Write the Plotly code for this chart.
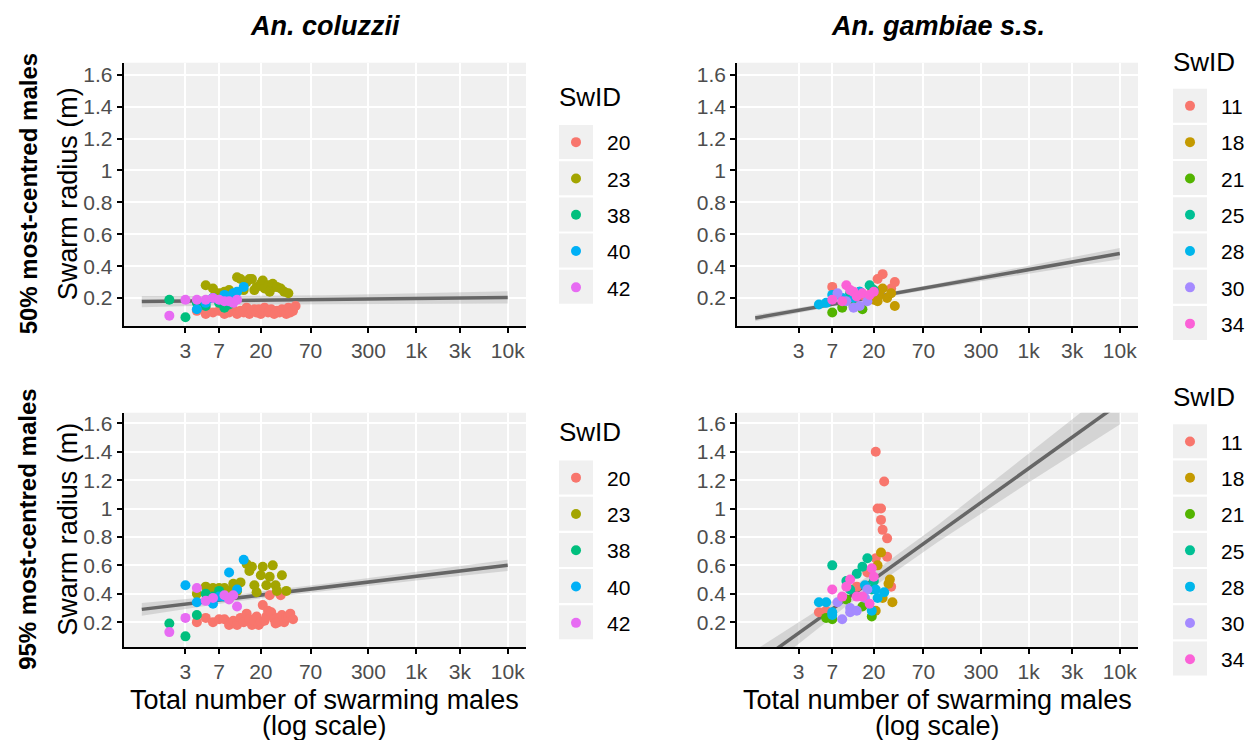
import plotly.graph_objects as go

# ---------------- data ----------------
N_TICKS = [3, 7, 20, 70, 300, 1000, 3000, 10000]
N_TICK_TEXT = ["3", "7", "20", "70", "300", "1k", "3k", "10k"]
R_TICKS = [0.2, 0.4, 0.6, 0.8, 1.0, 1.2, 1.4, 1.6]
R_TICK_TEXT = ["0.2", "0.4", "0.6", "0.8", "1", "1.2", "1.4", "1.6"]

COLUMN_TITLES = ["An. coluzzii", "An. gambiae s.s."]
ROW_TITLES = ["50% most-centred males", "95% most-centred males"]
Y_TITLE = "Swarm radius (m)"
X_TITLE_1 = "Total number of swarming males"
X_TITLE_2 = "(log scale)"
LEGEND_TITLE = "SwID"

coluzzii_ids = ["20", "23", "38", "40", "42"]
coluzzii_colors = ["#F8766D", "#A3A500", "#00BF7D", "#00B0F6", "#E76BF3"]
gambiae_ids = ["11", "18", "21", "25", "28", "30", "34"]
gambiae_colors = ["#F8766D", "#C49A00", "#53B400", "#00C094", "#00B6EB", "#A58AFF", "#FB61D7"]

# An. coluzzii, 50% most-centred males
col50_n = {
    "20": [4, 5, 5, 6, 7, 8, 9, 10, 11, 12, 13, 14, 15, 16, 17, 18, 19, 20, 21, 22, 24, 25, 26, 28, 30, 32, 34, 36, 38, 40, 42, 45, 48],
    "23": [5, 6, 7, 8, 9, 10, 11, 12, 13, 14, 15, 16, 17, 18, 20, 21, 22, 24, 25, 27, 28, 30, 33, 36, 40],
    "38": [2, 3, 4, 5, 6, 7, 8, 9],
    "40": [4, 5, 6, 7, 8, 9, 10, 11, 13],
    "42": [2, 3, 4, 5, 6, 7, 8, 9, 10, 11],
}
col50_r = {
    "20": [0.12, 0.13, 0.10, 0.11, 0.12, 0.10, 0.11, 0.13, 0.10, 0.12, 0.11, 0.14, 0.10, 0.12, 0.13, 0.11, 0.13, 0.10, 0.12, 0.14, 0.11, 0.12, 0.13, 0.10, 0.12, 0.11, 0.13, 0.12, 0.10, 0.14, 0.11, 0.12, 0.15],
    "23": [0.28, 0.26, 0.23, 0.24, 0.25, 0.22, 0.33, 0.32, 0.25, 0.30, 0.32, 0.32, 0.25, 0.27, 0.29, 0.31, 0.26, 0.28, 0.24, 0.29, 0.27, 0.27, 0.26, 0.24, 0.23],
    "38": [0.19, 0.08, 0.17, 0.15, 0.20, 0.17, 0.14, 0.16],
    "40": [0.13, 0.17, 0.20, 0.19, 0.22, 0.18, 0.23, 0.24, 0.27],
    "42": [0.09, 0.19, 0.19, 0.19, 0.20, 0.19, 0.18, 0.18, 0.17, 0.19],
}

# An. coluzzii, 95% most-centred males
col95_n = {
    "20": [4, 5, 6, 7, 8, 9, 10, 11, 12, 13, 14, 15, 16, 17, 18, 19, 20, 21, 22, 23, 24, 25, 26, 28, 29, 30, 31, 33, 34, 36, 38, 40, 42, 45],
    "23": [4, 5, 6, 7, 8, 9, 10, 11, 12, 14, 15, 16, 17, 18, 20, 21, 23, 25, 27, 29, 30, 34, 38],
    "38": [2, 3, 4, 5, 6, 7],
    "40": [3, 4, 6, 7, 8, 9, 11, 13],
    "42": [2, 3, 4, 5, 6, 8, 9, 10, 11],
}
col95_r = {
    "20": [0.20, 0.23, 0.20, 0.22, 0.22, 0.18, 0.21, 0.18, 0.23, 0.20, 0.26, 0.22, 0.18, 0.21, 0.24, 0.18, 0.20, 0.32, 0.21, 0.24, 0.28, 0.39, 0.27, 0.22, 0.19, 0.23, 0.20, 0.39, 0.25, 0.20, 0.23, 0.24, 0.26, 0.22],
    "23": [0.40, 0.45, 0.44, 0.44, 0.44, 0.42, 0.47, 0.42, 0.48, 0.61, 0.56, 0.59, 0.46, 0.41, 0.53, 0.59, 0.46, 0.52, 0.60, 0.46, 0.42, 0.53, 0.42],
    "38": [0.19, 0.10, 0.25, 0.40, 0.38, 0.42],
    "40": [0.46, 0.34, 0.33, 0.38, 0.38, 0.55, 0.43, 0.64],
    "42": [0.13, 0.23, 0.44, 0.35, 0.37, 0.39, 0.36, 0.39, 0.31],
}

# An. gambiae s.s., 50% most-centred males
gam50_n = {
    "11": [7, 16, 19, 22, 23, 25, 31, 34],
    "18": [20, 22, 23, 25, 28, 31, 34],
    "21": [7, 9, 12, 15],
    "25": [11, 14, 18, 20],
    "28": [5, 6, 7, 9, 12, 14],
    "30": [8, 10, 12, 14, 17],
    "34": [7, 9, 10, 11, 12, 13, 15, 18, 20],
}
gam50_r = {
    "11": [0.27, 0.21, 0.26, 0.32, 0.24, 0.35, 0.26, 0.30],
    "18": [0.19, 0.18, 0.22, 0.26, 0.20, 0.23, 0.15],
    "21": [0.11, 0.14, 0.15, 0.13],
    "25": [0.23, 0.24, 0.28, 0.25],
    "28": [0.16, 0.17, 0.22, 0.20, 0.20, 0.24],
    "30": [0.23, 0.18, 0.14, 0.15, 0.18],
    "34": [0.19, 0.18, 0.28, 0.25, 0.24, 0.21, 0.23, 0.22, 0.24],
}

# An. gambiae s.s., 95% most-centred males
gam95_n = {
    "11": [5, 6, 13, 17, 21, 21, 22, 24, 24, 25, 26, 28, 28, 31],
    "18": [21, 22, 24, 25, 29, 30, 32],
    "21": [6, 7, 10, 15, 19],
    "25": [7, 10, 11, 13, 15, 17, 19, 20],
    "28": [5, 6, 7, 7, 16, 19, 21, 22, 26],
    "30": [8, 9, 11, 11, 13, 16, 17],
    "34": [7, 9, 10, 11, 13, 15, 18, 19, 20],
}
gam95_r = {
    "11": [0.27, 0.28, 0.45, 0.55, 1.40, 0.65, 1.00, 1.00, 0.92, 0.85, 1.19, 0.79, 0.66, 0.45],
    "18": [0.28, 0.60, 0.69, 0.37, 0.47, 0.50, 0.34],
    "21": [0.23, 0.22, 0.36, 0.31, 0.24],
    "25": [0.60, 0.49, 0.43, 0.54, 0.59, 0.65, 0.43, 0.49],
    "28": [0.34, 0.34, 0.25, 0.27, 0.46, 0.28, 0.43, 0.37, 0.41],
    "30": [0.34, 0.22, 0.30, 0.27, 0.28, 0.37, 0.43],
    "34": [0.43, 0.38, 0.45, 0.50, 0.38, 0.38, 0.33, 0.58, 0.52],
}

# fitted regression lines with confidence ribbons
fit_n = [1, 10, 100, 1000, 10000]
col50_fit = [0.178, 0.185, 0.190, 0.197, 0.204]
col50_lo = [0.143, 0.157, 0.162, 0.165, 0.166]
col50_hi = [0.213, 0.213, 0.218, 0.229, 0.242]
gam50_fit = [0.075, 0.176, 0.277, 0.378, 0.479]
gam50_lo = [0.055, 0.164, 0.262, 0.353, 0.444]
gam50_hi = [0.095, 0.188, 0.292, 0.403, 0.514]
col95_fit = [0.290, 0.368, 0.445, 0.523, 0.600]
col95_lo = [0.245, 0.343, 0.420, 0.493, 0.560]
col95_hi = [0.335, 0.393, 0.470, 0.553, 0.640]
gam95_fit = [-0.096, 0.364, 0.823, 1.283, 1.742]
gam95_lo = [-0.196, 0.314, 0.763, 1.183, 1.592]
gam95_hi = [0.004, 0.414, 0.883, 1.383, 1.892]

# ---------------- layout geometry (pixels) ----------------
W, H = 1257, 740
PANEL_X = {"left": (123.5, 526.0), "right": (737.0, 1138.0)}
PANEL_Y = {"top": (62.7, 326.0), "bottom": (412.7, 647.0)}
FONT = "Liberation Sans, Arial, Helvetica, sans-serif"


def px_x(p):
    return p / W


def px_y(p):
    return 1 - p / H


fig = go.Figure()

panels = [
    # name, axis suffix, col, row, ids, colors, n, r, fit, lo, hi, legend
    ("c50", "", "left", "top", coluzzii_ids, coluzzii_colors, col50_n, col50_r, col50_fit, col50_lo, col50_hi, "legend"),
    ("g50", "2", "right", "top", gambiae_ids, gambiae_colors, gam50_n, gam50_r, gam50_fit, gam50_lo, gam50_hi, "legend2"),
    ("c95", "3", "left", "bottom", coluzzii_ids, coluzzii_colors, col95_n, col95_r, col95_fit, col95_lo, col95_hi, "legend3"),
    ("g95", "4", "right", "bottom", gambiae_ids, gambiae_colors, gam95_n, gam95_r, gam95_fit, gam95_lo, gam95_hi, "legend4"),
]

axis_common = dict(
    showgrid=True, gridcolor="white", gridwidth=1.6,
    showline=True, linecolor="black", linewidth=1.6,
    ticks="outside", ticklen=5, tickwidth=1.5, tickcolor="black",
    tickfont=dict(family=FONT, size=21, color="#4D4D4D"),
    zeroline=False,
)

for name, sfx, col, row, ids, colors, n_d, r_d, fit, lo, hi, leg in panels:
    xa = "x" + sfx
    ya = "y" + sfx
    # ribbon
    fig.add_trace(go.Scatter(
        x=fit_n + fit_n[::-1], y=hi + lo[::-1], xaxis=xa, yaxis=ya,
        fill="toself", fillcolor="rgba(160,160,160,0.35)", line=dict(width=0),
        mode="lines", showlegend=False, hoverinfo="skip",
    ))
    # fitted line
    fig.add_trace(go.Scatter(
        x=fit_n, y=fit, xaxis=xa, yaxis=ya, mode="lines",
        line=dict(color="#666666", width=3.5), showlegend=False, hoverinfo="skip",
    ))
    for sid, colr in zip(ids, colors):
        fig.add_trace(go.Scatter(
            x=n_d[sid], y=r_d[sid], xaxis=xa, yaxis=ya, mode="markers",
            marker=dict(color=colr, size=10, line=dict(width=0)),
            name=sid, legend=leg, legendgroup=name + sid,
        ))
    x0, x1 = PANEL_X[col]
    y0, y1 = PANEL_Y[row]
    fig.layout["xaxis" + sfx] = dict(
        axis_common, type="log", range=[-0.2, 4.2],
        tickvals=N_TICKS, ticktext=N_TICK_TEXT,
        domain=[px_x(x0), px_x(x1)], anchor=ya,
    )
    fig.layout["yaxis" + sfx] = dict(
        axis_common, range=[0.025, 1.675],
        tickvals=R_TICKS, ticktext=R_TICK_TEXT,
        domain=[px_y(y1), px_y(y0)], anchor=xa,
    )

# legend geometry: first key centre (pixels) and title centre per legend
KEY_X = {"left": (559, 593), "right": (1173, 1207)}
LEGENDS = {
    "legend": ("left", 142.0, 96.7),
    "legend2": ("right", 105.7, 61.7),
    "legend3": ("left", 477.5, 432.0),
    "legend4": ("right", 441.3, 397.0),
}
ITEM_STEP = 36.2
FIRST_ITEM_OFFSET = 20.0  # plotly: first legend item centre below legend top

shapes = []
annotations = []
for leg, (col, y_first, y_title) in LEGENDS.items():
    kx0, kx1 = KEY_X[col]
    fig.layout[leg] = dict(
        x=px_x((kx0 + kx1) / 2 - 31), y=px_y(y_first - FIRST_ITEM_OFFSET),
        xanchor="left", yanchor="top", xref="paper", yref="paper",
        bgcolor="rgba(0,0,0,0)", borderwidth=0,
        itemwidth=52, tracegroupgap=6,
        font=dict(family=FONT, size=21, color="black"),
    )
    annotations.append(dict(
        text=LEGEND_TITLE, x=px_x(kx0 - 2), y=px_y(y_title),
        xref="paper", yref="paper", showarrow=False, xanchor="left", yanchor="middle",
        font=dict(family=FONT, size=26, color="black"),
    ))
    count = len(coluzzii_ids) if col == "left" else len(gambiae_ids)
    for i in range(count):
        cy = y_first + ITEM_STEP * i
        shapes.append(dict(
            type="rect", xref="paper", yref="paper", layer="below",
            x0=px_x(kx0), x1=px_x(kx1),
            y0=px_y(cy + 17), y1=px_y(cy - 17),
            fillcolor="#F0F0F0", line=dict(width=0),
        ))

for col, title in zip(["left", "right"], COLUMN_TITLES):
    cx = sum(PANEL_X[col]) / 2
    annotations.append(dict(
        text="<b><i>" + title + "</i></b>", x=px_x(cx), y=px_y(26),
        xref="paper", yref="paper", showarrow=False, xanchor="center", yanchor="middle",
        font=dict(family=FONT, size=27, color="black"),
    ))
for row, title in zip(["top", "bottom"], ROW_TITLES):
    cy = sum(PANEL_Y[row]) / 2
    annotations.append(dict(
        text="<b>" + title + "</b>", x=px_x(28), y=px_y(cy), textangle=-90,
        xref="paper", yref="paper", showarrow=False, xanchor="center", yanchor="middle",
        font=dict(family=FONT, size=24, color="black"),
    ))
    annotations.append(dict(
        text=Y_TITLE, x=px_x(68), y=px_y(cy), textangle=-90,
        xref="paper", yref="paper", showarrow=False, xanchor="center", yanchor="middle",
        font=dict(family=FONT, size=27, color="black"),
    ))
for col in ["left", "right"]:
    cx = sum(PANEL_X[col]) / 2
    annotations.append(dict(
        text=X_TITLE_1, x=px_x(cx), y=px_y(700),
        xref="paper", yref="paper", showarrow=False, xanchor="center", yanchor="middle",
        font=dict(family=FONT, size=27, color="black"),
    ))
    annotations.append(dict(
        text=X_TITLE_2, x=px_x(cx), y=px_y(726),
        xref="paper", yref="paper", showarrow=False, xanchor="center", yanchor="middle",
        font=dict(family=FONT, size=27, color="black"),
    ))

fig.update_layout(
    width=W, height=H, autosize=False,
    margin=dict(l=0, r=0, t=0, b=0),
    paper_bgcolor="white", plot_bgcolor="#F0F0F0",
    shapes=shapes, annotations=annotations,
    font=dict(family=FONT),
)

fig.write_html("out.html")
